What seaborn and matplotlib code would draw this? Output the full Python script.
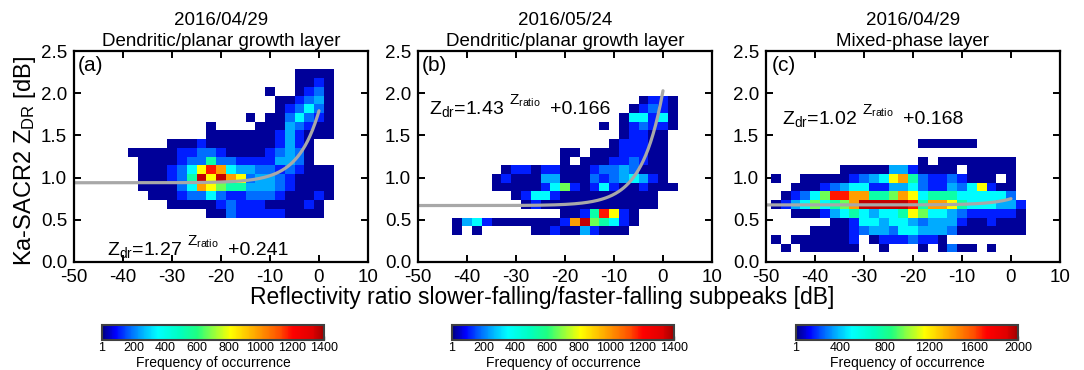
import numpy as np
import pandas as pd
import matplotlib
matplotlib.use("Agg")
import matplotlib.pyplot as plt
import seaborn as sns
from matplotlib.colors import LinearSegmentedColormap

# ------------------------------------------------------------------ data
PANEL_DATES = ["2016/04/29", "2016/05/24", "2016/04/29"]
PANEL_LAYERS = ["Dendritic/planar growth layer", "Dendritic/planar growth layer",
                "Mixed-phase layer"]
PANEL_LETTERS = ["(a)", "(b)", "(c)"]
FIT_A = [1.27, 1.43, 1.02]          # Zdr = A ** Zratio + B   (linear units)
FIT_B = [0.241, 0.166, 0.168]
FIT_TEXT_POS = [(-43.3, 0.08), (-47.8, 1.76), (-46.8, 1.64)]
CBAR_MAX = [1400, 1400, 2000]
CBAR_TICKS_AB = [1, 200, 400, 600, 800, 1000, 1200, 1400]
CBAR_TICKS_C = [1, 400, 800, 1200, 1600, 2000]
CBAR_MINOR_C = [200, 600, 1000, 1400, 1800]
X_TICKS = [-50, -40, -30, -20, -10, 0, 10]
Y_TICKS = [0.0, 0.5, 1.0, 1.5, 2.0, 2.5]

# frequency level codes -> fraction of colour-bar maximum
LEVELS = {"0": 0.015, "1": 0.08, "2": 0.13, "3": 0.18, "4": 0.25, "5": 0.38,
          "6": 0.48, "7": 0.58, "8": 0.70, "9": 0.84, "X": 0.97}

BIN_DX = 2.0        # dB
BIN_DY = 0.1035     # dB

# rows listed from top to bottom, columns left to right ('.' = empty cell)
GRID_A_X0, GRID_A_Y0 = -39, 0.524
GRID_A = [
    ".................0000",
    ".................0010",
    "..............0..0120",
    "...............001230",
    "...............012420",
    "............0.0024210",
    "........0....00032100",
    "........0000000131000",
    "....000100000001310..",
    "0000011221000012320..",
    ".000012252211113320..",
    ".00012479843322121000",
    ".000125X7X87233210000",
    ".00002487655333210000",
    "..0001224211222100010",
    "....0000012111000010.",
    "........002111110000.",
]

GRID_B_X0, GRID_B_Y0 = -43, 0.317
GRID_B = [
    "...................0110",
    "..................01210",
    ".................044140",
    "...............0.012110",
    ".................01100.",
    "................011100.",
    "...........00.00011100.",
    "...........0.000112100.",
    ".....01101100012232000.",
    "....010003300021234310.",
    "....0000014610141001000",
    "......014410000000000..",
    ".......01000000000000..",
    "...........00159710....",
    "0341000000018X65410....",
    "0.0.....0010031000.....",
]

GRID_C_X0, GRID_C_Y0 = -49, 0.11
GRID_C = [
    "...............000000.....",
    "..........................",
    "...............0.00000000.",
    ".......000003310000.00000.",
    "0..00000123478521121000.0.",
    "..00012344113342113247100.",
    ".012469988556874555444442.",
    "013464568XXXXX958875444331",
    "..000134543445764432111110",
    "......00144344323331001000",
    "....0000123324433320000000",
    "0.0000001.01112110........",
    ".0.000000..0...0.0200.0...",
]


def grid_to_frame(rows, x0, y0, vmax):
    nrows = len(rows)
    recs = []
    for r, row in enumerate(rows):
        for c, ch in enumerate(row):
            if ch == ".":
                continue
            recs.append({"x": x0 + BIN_DX * (c + 0.5),
                         "y": y0 + BIN_DY * (nrows - r - 0.5),
                         "count": LEVELS[ch] * vmax})
    ncols = max(len(r) for r in rows)
    xe = x0 + BIN_DX * np.arange(ncols + 1)
    ye = y0 + BIN_DY * np.arange(nrows + 1)
    return pd.DataFrame(recs), xe, ye


GRIDS = [(GRID_A, GRID_A_X0, GRID_A_Y0), (GRID_B, GRID_B_X0, GRID_B_Y0),
         (GRID_C, GRID_C_X0, GRID_C_Y0)]

# ------------------------------------------------------------------ style
sns.set_theme(style="ticks")
plt.rcParams["font.family"] = ["Liberation Sans", "DejaVu Sans"]
plt.rcParams["mathtext.fontset"] = "custom"
plt.rcParams["mathtext.rm"] = "Liberation Sans"
plt.rcParams["mathtext.it"] = "Liberation Sans:italic"
plt.rcParams["mathtext.bf"] = "Liberation Sans:bold"
plt.rcParams["axes.unicode_minus"] = False
for k in ["text.color", "axes.labelcolor", "xtick.color", "ytick.color",
          "axes.edgecolor", "xtick.labelcolor", "ytick.labelcolor"]:
    plt.rcParams[k] = "black"

cmap = LinearSegmentedColormap.from_list("freq", [
    (0.00, "#000080"), (0.06, "#0000ff"), (0.12, "#0060ff"), (0.18, "#00b0ff"),
    (0.25, "#00ffff"), (0.35, "#00ffc0"), (0.43, "#20ff80"), (0.50, "#90ff40"),
    (0.58, "#ffff00"), (0.70, "#ffa000"), (0.80, "#ff5000"), (0.86, "#ff0000"),
    (0.95, "#e00000"), (1.00, "#a00000")])

FW, FH = 1084, 370
fig = plt.figure(figsize=(FW / 100, FH / 100), dpi=100)

ax_lefts = [74, 418, 766]
ax_w = 294
ax_bottom, ax_top = 261.7, 51.2
cb_lefts = [102, 452, 796]
cb_w = 222
cb_top, cb_bot = 325, 339.5

for i in range(3):
    ax = fig.add_axes([ax_lefts[i] / FW, (FH - ax_bottom) / FH, ax_w / FW,
                       (ax_bottom - ax_top) / FH])
    cax = fig.add_axes([cb_lefts[i] / FW, (FH - cb_bot) / FH, cb_w / FW,
                        (cb_bot - cb_top) / FH])
    rows, x0, y0 = GRIDS[i]
    df, xe, ye = grid_to_frame(rows, x0, y0, CBAR_MAX[i])
    sns.histplot(data=df, x="x", y="y", weights="count", bins=(xe, ye),
                 cmap=cmap, vmin=1, vmax=CBAR_MAX[i], ax=ax, cbar=True,
                 cbar_ax=cax, cbar_kws={"orientation": "horizontal"})

    # fit curve: Zdr[dB] = 10 log10(A ** Zratio_lin + B)
    xs = np.linspace(-50, 0, 300)
    ys = 10 * np.log10(FIT_A[i] ** (10 ** (xs / 10)) + FIT_B[i])
    sns.lineplot(x=xs, y=ys, ax=ax, color="#a8a8a8", linewidth=2.3)

    ax.set_xlim(-50, 10)
    ax.set_ylim(0, 2.5)
    ax.set_xticks(X_TICKS)
    ax.set_xticklabels([str(t) for t in X_TICKS])
    ax.set_yticks(Y_TICKS)
    ax.set_yticklabels([f"{t:.1f}" for t in Y_TICKS])
    ax.set_xlabel("")
    ax.set_ylabel("")
    ax.tick_params(direction="in", top=True, right=True, length=5, width=1.4,
                   labelsize=13.5, pad=5, colors="black")
    for s in ax.spines.values():
        s.set_linewidth(1.6)
        s.set_color("black")
        s.set_visible(True)
    ax.set_title(f"{PANEL_DATES[i]}\n{PANEL_LAYERS[i]}", fontsize=13.5,
                 linespacing=1.3, pad=4, color="black")
    ax.text(0.012 if i < 2 else 0.02, 0.975, PANEL_LETTERS[i], transform=ax.transAxes,
            fontsize=15, va="top", ha="left")

    # fit equation: main part, raised exponent, offset term
    tx, ty = FIT_TEXT_POS[i]
    ax.annotate(r"Z$_{\mathrm{dr}}$=%.2f" % FIT_A[i], xy=(tx, ty), fontsize=14,
                va="baseline", ha="left")
    ax.annotate(r"Z$_{\mathrm{ratio}}$", xy=(tx, ty), xytext=(58, 6.5),
                textcoords="offset points", fontsize=11, va="baseline", ha="left")
    ax.annotate("+%.3f" % FIT_B[i], xy=(tx, ty), xytext=(87, 0),
                textcoords="offset points", fontsize=14, va="baseline", ha="left")

    # colour bar styling
    cb = ax.collections[0].colorbar
    cb.outline.set_edgecolor("#404040")
    cb.outline.set_linewidth(1.5)
    if i < 2:
        cb.set_ticks(CBAR_TICKS_AB)
    else:
        cb.set_ticks(CBAR_TICKS_C)
        cax.set_xticks(CBAR_MINOR_C, minor=True)
    cax.tick_params(axis="x", which="both", direction="in", length=3, width=1,
                    colors="#404040", labelcolor="black", labelsize=9, pad=2)
    cax.tick_params(axis="x", which="minor", length=3)
    cb.set_label("Frequency of occurrence", fontsize=10, labelpad=1, color="black")

fig.text(0.023, 0.565, r"Ka-SACR2 Z$_{\mathrm{DR}}$ [dB]", rotation=90,
         fontsize=17, ha="center", va="center")
fig.text(0.5, 0.197, "Reflectivity ratio slower-falling/faster-falling subpeaks [dB]",
         fontsize=16.5, ha="center", va="center")

fig.savefig("out.png", dpi=100)
